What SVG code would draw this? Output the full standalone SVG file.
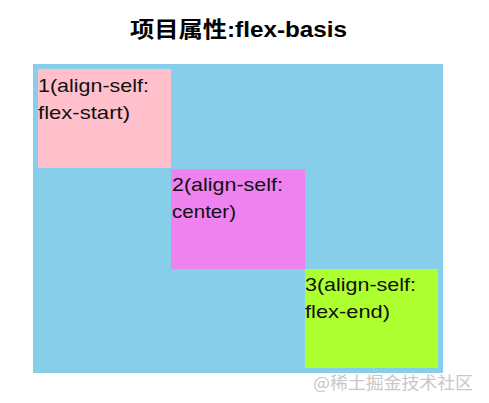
<svg xmlns="http://www.w3.org/2000/svg" width="489" height="403" viewBox="0 0 489 403">
<style>
.t{font-family:"Liberation Sans","Noto Sans CJK SC",sans-serif;font-size:19px;fill:#111}
.title{font-family:"Liberation Sans","Noto Sans CJK SC",sans-serif;font-size:22px;font-weight:bold;fill:#000}
.wm{font-family:"Noto Sans CJK SC",sans-serif;font-size:17px;fill:#c8c8c8}
</style>
<rect width="489" height="403" fill="#fff"/>
<text class="title" x="130" y="37" textLength="217" lengthAdjust="spacingAndGlyphs">项目属性:flex-basis</text>
<g id="container"><rect x="33" y="64" width="410" height="309" fill="#87CEEB"/></g>
<g id="item1">
<rect x="38" y="69" width="133" height="99" fill="#FFC0CB"/>
<text class="t" x="38" y="92" textLength="111" lengthAdjust="spacingAndGlyphs">1(align-self:</text>
<text class="t" x="38" y="119" textLength="92" lengthAdjust="spacingAndGlyphs">flex-start)</text>
</g>
<g id="item2">
<rect x="171" y="169" width="134" height="100" fill="#EE82EE"/>
<text class="t" x="172" y="191" textLength="111" lengthAdjust="spacingAndGlyphs">2(align-self:</text>
<text class="t" x="172" y="218" textLength="64" lengthAdjust="spacingAndGlyphs">center)</text>
</g>
<g id="item3">
<rect x="305" y="269" width="133" height="99" fill="#ADFF2F"/>
<text class="t" x="305" y="291" textLength="111" lengthAdjust="spacingAndGlyphs">3(align-self:</text>
<text class="t" x="305" y="318" textLength="85" lengthAdjust="spacingAndGlyphs">flex-end)</text>
</g>
<g id="connectors"/>
<text class="wm" x="313" y="389" textLength="160" lengthAdjust="spacingAndGlyphs">@稀土掘金技术社区</text>
</svg>
